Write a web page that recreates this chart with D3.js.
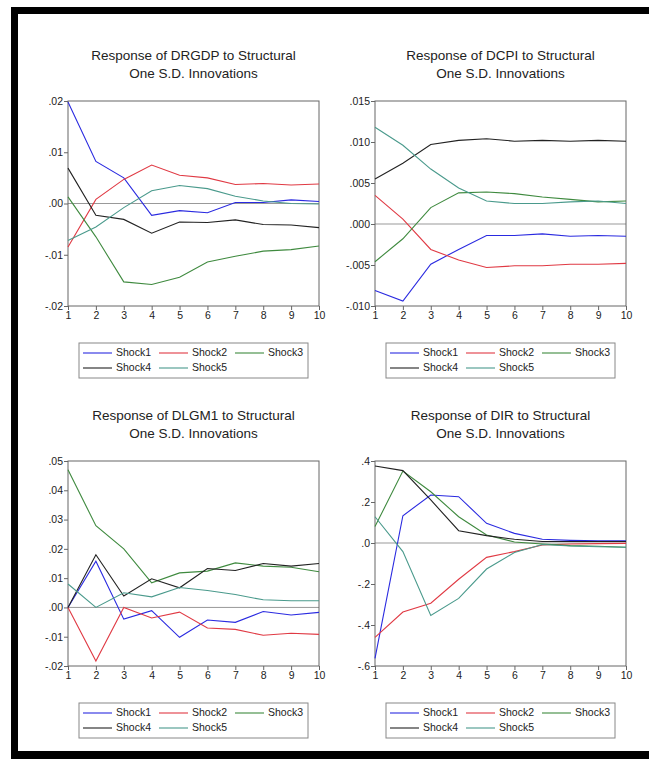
<!DOCTYPE html>
<html>
<head>
<meta charset="utf-8">
<script src="https://cdn.jsdelivr.net/npm/d3@7"></script>
<style>
  body { margin: 0; background: #fff; }
  svg text { font-family: "Liberation Sans", Arial, sans-serif; fill: #222; }
</style>
</head>
<body>
<div id="chart"></div>
<script>
// periods on the x axis
const periods = [1, 2, 3, 4, 5, 6, 7, 8, 9, 10];
const shocks = ["Shock1", "Shock2", "Shock3", "Shock4", "Shock5"];
const shockColors = ["#2a2ae0", "#e03a44", "#3f8a3f", "#222222", "#4a9a8c"];

// responses, one row per shock
const drgdp = [
  [0.0198, 0.0082, 0.0050, -0.0023, -0.0014, -0.0018, 0.0002, 0.0002, 0.0007, 0.0004],
  [-0.0085, 0.0008, 0.0047, 0.0075, 0.0055, 0.0050, 0.0037, 0.0039, 0.0036, 0.0038],
  [0.0013, -0.0065, -0.0153, -0.0158, -0.0144, -0.0114, -0.0103, -0.0093, -0.0090, -0.0083],
  [0.0069, -0.0023, -0.0031, -0.0058, -0.0036, -0.0037, -0.0032, -0.0041, -0.0042, -0.0047],
  [-0.0072, -0.0046, -0.0008, 0.0025, 0.0035, 0.0029, 0.0014, 0.0005, 0.0000, -0.0001]
];
const dcpi = [
  [-0.0081, -0.0094, -0.0049, -0.0031, -0.0014, -0.0014, -0.0012, -0.0015, -0.0014, -0.0015],
  [0.0035, 0.0006, -0.0031, -0.0044, -0.0053, -0.0051, -0.0051, -0.0049, -0.0049, -0.0048],
  [-0.0046, -0.0018, 0.0020, 0.0038, 0.0039, 0.0037, 0.0033, 0.0030, 0.0027, 0.0028],
  [0.0055, 0.0074, 0.0097, 0.0102, 0.0104, 0.0101, 0.0102, 0.0101, 0.0102, 0.0101],
  [0.0118, 0.0096, 0.0067, 0.0044, 0.0028, 0.0025, 0.0025, 0.0027, 0.0028, 0.0025]
];
const dlgm1 = [
  [0.0000, 0.0158, -0.0040, -0.0011, -0.0102, -0.0043, -0.0051, -0.0014, -0.0026, -0.0017],
  [0.0000, -0.0183, 0.0000, -0.0036, -0.0016, -0.0070, -0.0075, -0.0095, -0.0088, -0.0092],
  [0.0470, 0.0279, 0.0200, 0.0084, 0.0118, 0.0124, 0.0152, 0.0141, 0.0137, 0.0122],
  [0.0000, 0.0180, 0.0039, 0.0098, 0.0067, 0.0133, 0.0126, 0.0150, 0.0141, 0.0150],
  [0.0080, 0.0000, 0.0050, 0.0036, 0.0068, 0.0058, 0.0044, 0.0026, 0.0023, 0.0023]
];
const dir = [
  [-0.563, 0.133, 0.234, 0.226, 0.096, 0.047, 0.018, 0.013, 0.011, 0.011],
  [-0.460, -0.337, -0.294, -0.177, -0.070, -0.042, -0.010, -0.005, -0.003, -0.002],
  [0.080, 0.351, 0.250, 0.128, 0.039, 0.005, -0.005, -0.013, -0.016, -0.021],
  [0.376, 0.353, 0.210, 0.060, 0.036, 0.018, 0.007, 0.007, 0.007, 0.007],
  [0.128, -0.042, -0.354, -0.270, -0.127, -0.046, -0.007, -0.015, -0.018, -0.021]
];

// y tick values and their labels per panel
const ticksDrgdp = [-0.02, -0.01, 0, 0.01, 0.02];
const labelsDrgdp = ["-.02", "-.01", ".00", ".01", ".02"];
const ticksDcpi = [-0.010, -0.005, 0, 0.005, 0.010, 0.015];
const labelsDcpi = ["-.010", "-.005", ".000", ".005", ".010", ".015"];
const ticksDlgm1 = [-0.02, -0.01, 0, 0.01, 0.02, 0.03, 0.04, 0.05];
const labelsDlgm1 = ["-.02", "-.01", ".00", ".01", ".02", ".03", ".04", ".05"];
const ticksDir = [-0.6, -0.4, -0.2, 0, 0.2, 0.4];
const labelsDir = ["-.6", "-.4", "-.2", ".0", ".2", ".4"];

const titles = ["DRGDP", "DCPI", "DLGM1", "DIR"];

const width = 649, height = 759;

const svg = d3.select("#chart")
  .append("svg")
  .attr("width", width)
  .attr("height", height);

// black frame (top, left, bottom edges)
svg.append("rect").attr("x", 11).attr("y", 7).attr("width", width - 11).attr("height", 7).attr("fill", "#000");
svg.append("rect").attr("x", 11).attr("y", 7).attr("width", 7).attr("height", height - 7).attr("fill", "#000");
svg.append("rect").attr("x", 11).attr("y", 751).attr("width", width - 11).attr("height", 8).attr("fill", "#000");

function panel(data, ticks, labels, name, left, top, pw, ph) {
  const g = svg.append("g");

  let x = d3.scaleLinear()
    .domain([1, 10])
    .range([left, left + pw]);

  let y = d3.scaleLinear()
    .domain(d3.extent(ticks))
    .range([top + ph, top]);

  // title, two lines
  let cx = left + pw / 2;
  g.append("text")
    .attr("x", cx).attr("y", top - 41)
    .attr("text-anchor", "middle")
    .attr("font-size", "13.5px")
    .text(`Response of ${name} to Structural`);
  g.append("text")
    .attr("x", cx).attr("y", top - 23)
    .attr("text-anchor", "middle")
    .attr("font-size", "13.5px")
    .text("One S.D. Innovations");

  // zero line
  g.append("line")
    .attr("x1", left).attr("x2", left + pw)
    .attr("y1", y(0)).attr("y2", y(0))
    .attr("stroke", "#999")
    .attr("stroke-width", 1);

  // axes
  let yAxis = g.append("g")
    .attr("transform", `translate(${left},0)`)
    .call(d3.axisLeft(y)
      .tickValues(ticks)
      .tickFormat((d, i) => labels[i])
      .tickSize(4)
      .tickSizeOuter(0));

  let xAxis = g.append("g")
    .attr("transform", `translate(0,${top + ph})`)
    .call(d3.axisBottom(x)
      .tickValues(periods)
      .tickFormat(d => d)
      .tickSize(4)
      .tickSizeOuter(0));

  for (let ax of [xAxis, yAxis]) {
    ax.select(".domain").remove();
    ax.selectAll(".tick line").attr("stroke", "#666");
    ax.selectAll(".tick text")
      .attr("font-family", "Liberation Sans, Arial, sans-serif")
      .attr("font-size", "10.5px")
      .attr("fill", "#222");
  }
  yAxis.selectAll(".tick text").attr("x", -5);
  xAxis.selectAll(".tick text").attr("y", 6);

  // frame of plot area
  g.append("rect")
    .attr("x", left).attr("y", top)
    .attr("width", pw).attr("height", ph)
    .attr("fill", "none")
    .attr("stroke", "#666")
    .attr("stroke-width", 1);

  let line = d3.line()
    .x((d, i) => x(periods[i]))
    .y(d => y(d));

  data.forEach((series, k) => {
    g.append("path")
      .datum(series)
      .attr("fill", "none")
      .attr("stroke", shockColors[k])
      .attr("stroke-width", 1.1)
      .attr("d", line);
  });

  // legend box
  let lx = left + 11, ly = top + ph + 37;
  g.append("rect")
    .attr("x", lx).attr("y", ly)
    .attr("width", 229).attr("height", 35)
    .attr("fill", "none")
    .attr("stroke", "#888");

  shocks.forEach((s, k) => {
    let col = k % 3, row = Math.floor(k / 3);
    let sx = lx + 4 + col * 76, sy = ly + 10 + row * 15;
    g.append("line")
      .attr("x1", sx).attr("x2", sx + 29)
      .attr("y1", sy).attr("y2", sy)
      .attr("stroke", shockColors[k])
      .attr("stroke-width", 1.1);
    g.append("text")
      .attr("x", sx + 33).attr("y", sy)
      .attr("dominant-baseline", "middle")
      .attr("font-size", "10.5px")
      .text(s);
  });
}

panel(drgdp, ticksDrgdp, labelsDrgdp, titles[0], 68, 101, 251, 205);
panel(dcpi, ticksDcpi, labelsDcpi, titles[1], 375, 101, 251, 205);
panel(dlgm1, ticksDlgm1, labelsDlgm1, titles[2], 68, 461, 251, 205);
panel(dir, ticksDir, labelsDir, titles[3], 375, 461, 251, 205);
</script>
</body>
</html>
